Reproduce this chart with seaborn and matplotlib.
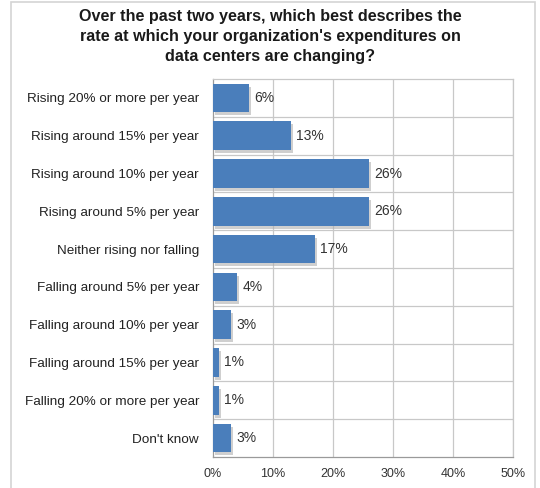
import matplotlib
matplotlib.use("Agg")
import matplotlib.pyplot as plt
import seaborn as sns
import pandas as pd
from matplotlib.patches import Rectangle

categories = [
    "Rising 20% or more per year",
    "Rising around 15% per year",
    "Rising around 10% per year",
    "Rising around 5% per year",
    "Neither rising nor falling",
    "Falling around 5% per year",
    "Falling around 10% per year",
    "Falling around 15% per year",
    "Falling 20% or more per year",
    "Don't know",
]
percentages = [6, 13, 26, 26, 17, 4, 3, 1, 1, 3]
x_ticks = [0, 10, 20, 30, 40, 50]

title = ("Over the past two years, which best describes the\n"
         "rate at which your organization's expenditures on\n"
         "data centers are changing?")

df = pd.DataFrame({"category": categories, "pct": percentages})

sns.set_theme(style="white")
plt.rcParams["font.family"] = ["Liberation Sans", "DejaVu Sans"]

fig = plt.figure(figsize=(5.40, 4.88), dpi=100)
ax = fig.add_axes([213 / 540, 1 - 457 / 488, 300 / 540, (457 - 79) / 488])

bar_h = 0.76
# soft drop shadow behind each bar
for i, v in enumerate(percentages):
    ax.add_patch(Rectangle((0.25, i - bar_h / 2 + 0.08), v, bar_h,
                           facecolor="#b0b0b0", edgecolor="none", alpha=0.6, zorder=2))

sns.barplot(data=df, x="pct", y="category", orient="h", color="#4a7ebb",
            saturation=1, width=bar_h, ax=ax, zorder=3, edgecolor="none")

for i, v in enumerate(percentages):
    ax.text(v + 0.9, i, f"{v}%", va="center", ha="left", fontsize=10, color="#333333", zorder=4)

ax.set_xlim(0, 50)
ax.set_ylim(len(categories) - 0.5, -0.5)
ax.set_xticks(x_ticks)
ax.set_xticklabels([f"{t}%" for t in x_ticks], fontsize=9, color="#333333")
ax.set_yticks(range(len(categories)))
ax.set_yticklabels(categories, fontsize=9.7, color="#222222")
ax.set_xlabel("")
ax.set_ylabel("")
ax.tick_params(axis="y", length=0, pad=10)
ax.tick_params(axis="x", length=0, pad=8)

# grid: vertical lines at each tick, horizontal separators between categories
for t in x_ticks[1:]:
    ax.axvline(t, color="#c8c8c8", lw=0.9, zorder=1)
for b in [k + 0.5 for k in range(len(categories) - 1)]:
    ax.axhline(b, color="#c8c8c8", lw=0.9, zorder=1)

for side in ["top", "right"]:
    ax.spines[side].set_color("#c8c8c8")
    ax.spines[side].set_linewidth(0.9)
for side in ["left", "bottom"]:
    ax.spines[side].set_color("#9a9a9a")
    ax.spines[side].set_linewidth(0.9)
ax.set_facecolor("white")

fig.text(0.5, 1 - 9 / 488, title, ha="center", va="top", fontsize=11.6,
         fontweight="bold", color="#1a1a1a", linespacing=1.42)

# outer frame around the whole chart
fig.patches.append(Rectangle((11 / 540, -0.02), (535 - 11) / 540, 1 - 2 / 488 + 0.02,
                             transform=fig.transFigure, facecolor="none",
                             edgecolor="#d4d4d4", lw=1.2, zorder=0))

fig.savefig("out.png", dpi=100, facecolor="white")
